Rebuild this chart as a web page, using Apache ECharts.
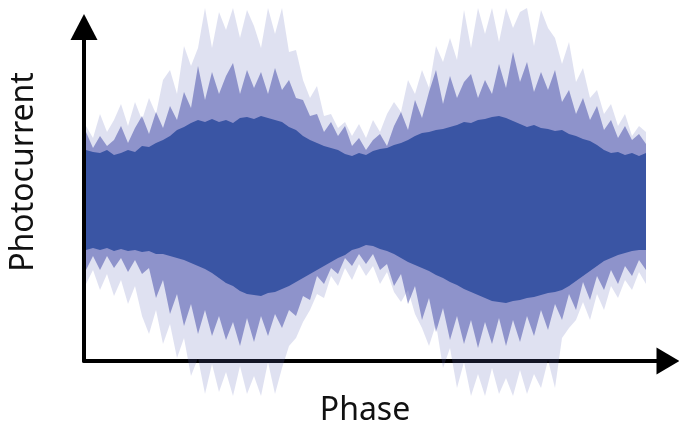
<!DOCTYPE html>
<html><head><meta charset="utf-8">
<style>html,body{margin:0;padding:0;background:#fff}#c{width:679px;height:432px}</style>
<script src="https://cdn.jsdelivr.net/npm/echarts@6/dist/echarts.min.js"></script>
</head><body><div id="c"></div>
<script>
const outerUpper=[72,60,84,66,78,94,72,96,78,100,84,118,128,104,152,132,150,190,150,186,168,190,160,188,172,150,190,164,190,146,148,118,100,112,82,84,70,76,62,74,60,78,66,84,96,86,118,104,128,110,152,136,160,138,188,150,190,164,190,156,190,170,186,190,152,188,170,160,134,156,116,130,100,108,84,94,72,84,62,72,66];
const midUpper=[66,50,62,52,58,72,55,70,82,64,86,70,92,78,106,90,132,98,126,104,122,135,104,128,110,126,104,130,108,118,100,98,82,84,66,76,62,72,52,60,48,58,64,52,72,86,68,98,80,106,128,94,122,100,116,124,100,118,104,134,110,146,116,136,106,126,108,128,96,108,84,100,78,92,68,78,60,72,58,64,54];
const coreUpper=[48,46,45,48,43,45,48,46,52,51,55,58,62,68,71,75,78,76,79,76,78,75,80,81,79,82,80,78,76,71,68,62,58,55,52,50,48,44,42,45,43,47,49,50,53,55,58,62,65,66,68,69,71,73,76,75,78,79,81,82,80,77,74,71,73,70,69,67,68,64,62,59,57,53,48,45,46,43,45,42,45];
const coreLower=[52,50,52,50,53,51,53,52,54,53,56,56,58,60,62,65,68,71,75,80,85,88,93,96,97,98,95,94,91,88,84,80,76,72,68,64,60,57,52,50,47,48,51,53,56,60,64,67,70,73,77,80,84,87,91,94,97,100,103,104,105,103,102,100,99,97,95,94,92,88,83,78,73,68,63,60,57,55,53,52,52];
const midLower=[72,58,72,58,70,60,74,62,76,70,100,82,116,96,128,106,136,112,138,118,142,124,148,120,144,118,138,116,130,112,118,98,102,78,86,70,76,60,68,56,66,56,72,66,88,76,106,88,122,100,134,110,142,118,146,122,150,124,146,120,148,122,144,118,138,112,132,106,122,96,112,84,102,78,92,72,86,68,78,62,72];
const outerLower=[86,72,92,76,98,82,106,88,118,136,112,146,126,160,140,178,160,196,166,194,174,198,168,196,178,198,164,196,170,148,140,124,112,96,100,78,88,70,82,66,78,68,86,74,94,104,92,116,130,148,126,170,150,190,164,198,176,198,170,196,180,198,172,196,176,190,162,190,140,130,122,104,122,96,112,88,100,82,92,74,86];
const phases=outerUpper.map((_,i)=>String(i));
const neg=a=>a.map(v=>-v);
function band(name,data,color){
  return {name,type:'line',xAxisIndex:0,yAxisIndex:0,data,symbol:'none',silent:true,
    lineStyle:{width:0},areaStyle:{color,opacity:1,origin:0},animation:false};
}
const chart=echarts.init(document.getElementById('c'),null,{renderer:'canvas'});
const FONT='"Noto Sans"';
chart.setOption({
  animation:false,
  backgroundColor:'#fff',
  grid:[
    {left:86,top:8,width:560,height:388},
    {left:83,top:27,width:585,height:353}
  ],
  xAxis:[
    {gridIndex:0,type:'category',data:phases,boundaryGap:false,show:false},
    {gridIndex:1,type:'value',min:0,max:1,splitLine:{show:false},axisTick:{show:false},axisLabel:{show:false},
     axisLine:{show:true,onZero:false,lineStyle:{color:'#000',width:4},symbol:['none','triangle'],symbolSize:[27,23]},
     name:'Phase',nameLocation:'middle',nameGap:34,
     nameTextStyle:{fontFamily:FONT,fontSize:32,color:'#111',padding:[0,22,0,0]}}
  ],
  yAxis:[
    {gridIndex:0,type:'value',min:-198,max:190,show:false},
    {gridIndex:1,type:'value',min:0,max:1,splitLine:{show:false},axisTick:{show:false},axisLabel:{show:false},
     axisLine:{show:true,onZero:false,lineStyle:{color:'#000',width:4},symbol:['none','triangle'],symbolSize:[27,26]},
     name:'Photocurrent',nameLocation:'middle',nameGap:44,
     nameTextStyle:{fontFamily:FONT,fontSize:32,color:'#111',padding:[0,0,0,44]}}
  ],
  series:[
    band('outer upper',outerUpper,'rgba(95,105,185,0.2)'),
    band('outer lower',neg(outerLower),'rgba(95,105,185,0.2)'),
    band('mid upper',midUpper,'rgba(62,70,165,0.5)'),
    band('mid lower',neg(midLower),'rgba(62,70,165,0.5)'),
    band('core upper',coreUpper,'#3a55a4'),
    band('core lower',neg(coreLower),'#3a55a4')
  ]
});
</script></body></html>
